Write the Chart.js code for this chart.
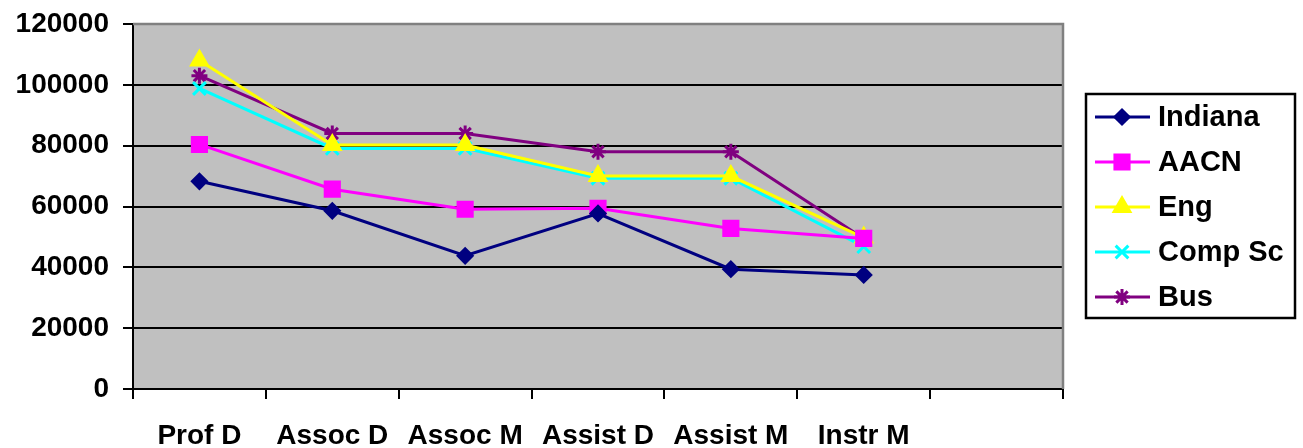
<!DOCTYPE html>
<html>
<head>
<meta charset="utf-8">
<script src="https://cdn.jsdelivr.net/npm/chart.js@4/dist/chart.umd.min.js"></script>
<style>
  html, body { margin: 0; padding: 0; background: #fff; }
  #wrap { width: 1303px; height: 448px; }
</style>
</head>
<body>
<div id="wrap"><canvas id="salaryChart" width="1303" height="448"></canvas></div>
<script>
// categories (last slot is empty, like the original sheet)
const ranks = ["Prof D", "Assoc D", "Assoc M", "Assist D", "Assist M", "Instr M", ""];

// salaries
const indiana = [68300, 58600, 43800, 57700, 39400, 37500];
const aacn    = [80400, 65700, 59100, 59400, 52800, 49500];
const eng     = [108000, 80200, 80200, 70000, 70000, 49800];
const compSc  = [98800, 79100, 79100, 69300, 69300, 46800];
const bus     = [103000, 84000, 84000, 78000, 78000, 49500];

const yTicks = [0, 20000, 40000, 60000, 80000, 100000, 120000];

const FONT = "'Liberation Sans', Arial, sans-serif";

function serie(label, data, color, style, radius) {
  return {
    label: label,
    data: data,
    borderColor: color,
    backgroundColor: color,
    pointBackgroundColor: color,
    pointBorderColor: color,
    pointStyle: style,
    pointRadius: radius,
    pointHoverRadius: radius,
    pointBorderWidth: 3,
    borderWidth: 3,
    tension: 0,
    fill: false
  };
}

// fond gris + bordure haut/droite
const plotBg = {
  id: "plotBg",
  beforeDraw(chart) {
    const a = chart.chartArea;
    const ctx = chart.ctx;
    ctx.save();
    ctx.fillStyle = "#C0C0C0";
    ctx.fillRect(a.left, a.top, a.right - a.left, a.bottom - a.top);
    ctx.restore();
  },
  afterDatasetsDraw(chart) {
    const a = chart.chartArea;
    const ctx = chart.ctx;
    ctx.save();
    ctx.strokeStyle = "#808080";
    ctx.lineWidth = 2.5;
    ctx.beginPath();
    ctx.moveTo(a.left, a.top);
    ctx.lineTo(a.right, a.top);
    ctx.lineTo(a.right, a.bottom);
    ctx.stroke();
    ctx.restore();
  }
};

// legende dessinee a la main (ligne + marqueur)
const boxLegend = {
  id: "boxLegend",
  afterDraw(chart) {
    const ctx = chart.ctx;
    ctx.save();
    ctx.strokeStyle = "#000";
    ctx.lineWidth = 2.5;
    ctx.strokeRect(1086, 94, 209, 224);
    ctx.font = "bold 29px " + FONT;
    ctx.textBaseline = "middle";
    chart.data.datasets.forEach((ds, i) => {
      const y = 117 + i * 45;
      ctx.strokeStyle = ds.borderColor;
      ctx.lineWidth = 3;
      ctx.beginPath();
      ctx.moveTo(1095, y);
      ctx.lineTo(1150, y);
      ctx.stroke();
      ctx.fillStyle = ds.pointBackgroundColor;
      ctx.strokeStyle = ds.pointBorderColor;
      ctx.lineWidth = 3;
      Chart.helpers.drawPoint(ctx, { pointStyle: ds.pointStyle, radius: ds.pointRadius, borderWidth: 3 }, 1122, y);
      ctx.fillStyle = "#000";
      ctx.fillText(ds.label, 1158, y + 1);
    });
    ctx.restore();
  }
};

const ctx = document.getElementById("salaryChart").getContext("2d");
const chart = new Chart(ctx, {
  type: "line",
  data: {
    labels: ranks,
    datasets: [
      serie("Indiana", indiana, "#000080", "rectRot", 7),
      serie("AACN", aacn, "#FF00FF", "rect", 10),
      serie("Eng", eng, "#FFFF00", "triangle", 9),
      serie("Comp Sc", compSc, "#00FFFF", "crossRot", 9),
      serie("Bus", bus, "#800080", "star", 8)
    ]
  },
  options: {
    responsive: false,
    animation: false,
    layout: { padding: { left: 0, right: 240, top: 24, bottom: 0 } },
    plugins: {
      legend: { display: false },
      tooltip: { enabled: false }
    },
    scales: {
      x: {
        offset: true,
        grid: {
          offset: true,
          drawOnChartArea: false,
          drawTicks: true,
          tickLength: 10,
          color: "#000",
          lineWidth: 2
        },
        border: { display: true, color: "#000", width: 2 },
        ticks: {
          color: "#000",
          font: { family: FONT, size: 28, weight: "bold" },
          padding: 20,
          maxRotation: 0,
          autoSkip: false
        },
        afterFit(scale) {
          scale.height = 59;
          scale.paddingLeft = 0;
          scale.paddingRight = 0;
        }
      },
      y: {
        min: 0,
        max: 120000,
        afterBuildTicks(scale) { scale.ticks = yTicks.map(v => ({ value: v })); },
        grid: {
          color: (c) => (c.tick && c.tick.value === 120000 ? "#808080" : "#000"),
          tickColor: "#000",
          lineWidth: 2,
          tickLength: 10
        },
        border: { display: true, color: "#000", width: 2 },
        ticks: {
          color: "#000",
          font: { family: FONT, size: 28, weight: "bold" },
          padding: 14,
          callback: (v) => String(v)
        },
        afterFit(scale) {
          scale.width = 133;
          scale.paddingTop = 0;
          scale.paddingBottom = 0;
        }
      }
    }
  },
  plugins: [plotBg, boxLegend]
});
</script>
</body>
</html>
